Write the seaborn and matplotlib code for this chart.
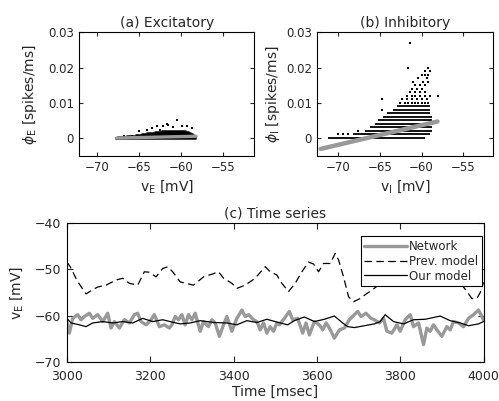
import numpy as np
import pandas as pd
import seaborn as sns
import matplotlib.pyplot as plt

# ---- panel (a): excitatory scatter, rows of quantized rates (phi, v_min, v_max)
exc_row_phi = [0.0, 0.0003, 0.0006, 0.0009, 0.0012, 0.0015, 0.0018, 0.0021]
exc_row_vmin = [-67.8, -67.6, -66.5, -65.5, -64.8, -64.2, -63.2, -62.4]
exc_row_vmax = [-58.2, -58.2, -58.2, -58.4, -58.6, -58.8, -59.0, -59.4]
exc_pts_v = [-66.8, -65.8, -65.0, -64.0, -63.5, -62.9, -62.5, -62.1, -61.7, -61.5,
             -60.9, -60.5, -59.9, -59.3, -58.7]
exc_pts_phi = [0.0007, 0.0007, 0.0019, 0.0024, 0.0028, 0.0033, 0.0024, 0.0035, 0.004, 0.0038,
               0.003, 0.005, 0.0033, 0.0035, 0.0028]
exc_fit_v = [-67.6, -58.2]
exc_fit_phi = [0.0, 0.0005]

# ---- panel (b): inhibitory scatter
inh_row_phi = [0.0, 0.001, 0.002, 0.003, 0.004, 0.005, 0.006, 0.007, 0.008, 0.009]
inh_row_vmin = [-71.2, -68.2, -66.8, -66.2, -65.6, -65.2, -64.6, -64.2, -63.4, -63.0]
inh_row_vmax = [-59.6, -59.0, -58.8, -58.8, -58.8, -58.8, -58.8, -59.0, -59.0, -59.0]
inh_pts_v = [-70.0, -69.4, -68.8, -67.6, -64.8, -64.7,
             -62.6, -62.0, -61.6, -61.2, -60.8, -60.4, -60.0, -59.6, -59.2,
             -62.4, -61.8, -61.2, -60.6, -60.0, -59.4,
             -61.8, -61.2, -60.8, -60.2, -59.6, -59.0, -58.0,
             -61.4, -60.8, -60.2, -59.6,
             -61.2, -60.6, -60.0,
             -60.8, -60.2, -59.6,
             -61.0, -59.8, -59.2,
             -60.4, -59.4,
             -60.0, -59.6, -59.2,
             -59.6, -59.0,
             -61.6, -59.2,
             -61.4]
inh_pts_phi = [0.001, 0.001, 0.001, 0.002, 0.008, 0.011,
               0.010, 0.010, 0.010, 0.010, 0.010, 0.010, 0.010, 0.010, 0.010,
               0.011, 0.011, 0.011, 0.011, 0.011, 0.011,
               0.012, 0.012, 0.012, 0.012, 0.012, 0.012, 0.012,
               0.013, 0.013, 0.013, 0.013,
               0.014, 0.014, 0.014,
               0.015, 0.015, 0.015,
               0.016, 0.016, 0.016,
               0.017, 0.017,
               0.018, 0.018, 0.018,
               0.019, 0.019,
               0.020, 0.020,
               0.027]
inh_fit_v = [-72.1, -58.1]
inh_fit_phi = [-0.0031, 0.0047]

# ---- panel (c): time series
net_t = [3000, 3006, 3014, 3026, 3034, 3042, 3054, 3062, 3074, 3086, 3098, 3106, 3114, 3126,
         3138, 3150, 3162, 3170, 3178, 3190, 3202, 3210, 3222, 3234, 3246, 3252, 3260, 3268,
         3276, 3284, 3292, 3300, 3308, 3320, 3328, 3340, 3348, 3356, 3366, 3376, 3384, 3396,
         3408, 3420, 3428, 3436, 3448, 3456, 3464, 3472, 3480, 3488, 3496, 3504, 3510, 3522,
         3534, 3542, 3554, 3566, 3574, 3582, 3594, 3606, 3614, 3622, 3630, 3642, 3654, 3666,
         3678, 3690, 3698, 3706, 3718, 3730, 3738, 3750, 3760, 3768, 3780, 3792, 3800, 3812,
         3824, 3832, 3844, 3856, 3864, 3872, 3880, 3888, 3900, 3912, 3920, 3928, 3940, 3952,
         3964, 3976, 3988, 3995, 4000]
net_v = [-61.3, -63.8, -60.6, -59.8, -60.9, -60.2, -59.5, -60.6, -59.8, -61.3, -59.5, -62.7,
         -61.3, -62.7, -60.9, -61.6, -59.8, -59.5, -61.3, -62.0, -60.9, -59.8, -62.4, -62.0,
         -62.7, -62.0, -60.2, -60.9, -59.8, -62.0, -59.8, -60.9, -59.5, -63.4, -61.3, -62.4,
         -60.9, -61.6, -64.5, -62.0, -60.2, -63.4, -60.6, -58.8, -60.2, -59.8, -60.9, -61.3,
         -63.1, -61.6, -63.8, -62.4, -63.4, -61.6, -62.0, -60.6, -59.1, -60.9, -60.6, -63.8,
         -61.6, -64.2, -61.3, -62.0, -63.1, -61.6, -62.7, -64.9, -63.1, -62.7, -60.9, -59.8,
         -59.1, -60.2, -59.5, -60.6, -60.9, -61.6, -60.6, -63.4, -63.8, -62.0, -63.4, -60.9,
         -59.8, -62.4, -61.6, -66.3, -62.7, -63.4, -62.0, -63.1, -64.5, -62.4, -63.1, -61.3,
         -61.6, -62.4, -60.6, -59.8, -58.8, -60.0, -61.0]

prev_t = [3000, 3008, 3025, 3046, 3060, 3074, 3094, 3118, 3134, 3150, 3170, 3186, 3198, 3214,
          3230, 3242, 3254, 3272, 3304, 3328, 3352, 3364, 3376, 3396, 3408, 3428, 3452, 3476,
          3488, 3504, 3516, 3532, 3548, 3564, 3580, 3592, 3604, 3616, 3632, 3644, 3652, 3664,
          3676, 3688, 3704, 3720, 3732, 3760, 3800, 3850, 3900, 3940, 3958, 3972, 3984, 3992,
          4000]
prev_v = [-48.4, -49.4, -52.5, -55.3, -54.5, -53.8, -53.4, -52.3, -51.9, -53.0, -53.4, -50.5,
          -50.6, -51.6, -49.8, -49.4, -50.5, -52.7, -53.4, -51.6, -50.9, -50.5, -51.9, -53.0,
          -54.1, -53.4, -51.9, -49.4, -50.5, -51.2, -53.0, -54.8, -53.0, -50.5, -48.4, -48.8,
          -50.5, -48.7, -48.7, -46.5, -47.9, -51.6, -55.9, -57.0, -56.3, -55.2, -54.5, -52.5,
          -51.0, -50.5, -51.0, -52.5, -54.5, -56.3, -56.3, -55.0, -52.8]

our_t = [3000, 3010, 3030, 3046, 3062, 3086, 3110, 3134, 3158, 3182, 3206, 3230, 3252, 3272,
         3296, 3320, 3352, 3384, 3408, 3432, 3456, 3480, 3504, 3530, 3546, 3570, 3594, 3618,
         3642, 3662, 3674, 3690, 3714, 3738, 3752, 3764, 3784, 3808, 3832, 3860, 3896, 3920,
         3944, 3964, 3988, 4000]
our_v = [-60.6, -61.6, -62.0, -62.4, -61.6, -61.3, -61.6, -61.3, -61.6, -60.6, -61.3, -60.9,
         -61.4, -61.8, -61.6, -61.1, -61.5, -61.6, -62.0, -61.1, -61.5, -60.8, -61.4, -62.0,
         -61.1, -60.3, -61.3, -60.8, -60.1, -61.6, -62.4, -62.6, -62.2, -61.8, -61.3, -59.8,
         -61.3, -61.8, -60.9, -60.8, -60.1, -61.1, -61.6, -62.2, -61.8, -61.3]

GRAY = '#999999'
FS = 8.5    # tick labels
LFS = 10    # titles / axis labels

sns.set_style('ticks')
plt.rcParams['font.family'] = ['DejaVu Sans']
plt.rcParams['font.size'] = FS
plt.rcParams['axes.linewidth'] = 0.8
plt.rcParams['axes.edgecolor'] = 'black'

fig = plt.figure(figsize=(4.99, 4.01), dpi=100)
ax_a = fig.add_axes([0.159, 0.612, 0.350, 0.307])
ax_b = fig.add_axes([0.636, 0.612, 0.351, 0.307])
ax_c = fig.add_axes([0.134, 0.098, 0.835, 0.345])


def scatter_panel(ax, row_phi, row_vmin, row_vmax, pts_v, pts_phi, fit_v, fit_phi,
                  xlim, title, sub, row_lw, fit_lw, ypad):
    ax.hlines(row_phi, row_vmin, row_vmax, colors='black', lw=row_lw, zorder=2)
    sns.scatterplot(x=pts_v, y=pts_phi, ax=ax, color='black', s=2.5, marker='s',
                    linewidth=0, zorder=3)
    sns.lineplot(x=fit_v, y=fit_phi, ax=ax, color=GRAY, lw=fit_lw, zorder=4)
    ax.set_xlim(*xlim)
    ax.set_ylim(-0.005, 0.03)
    ax.set_xticks([-70, -65, -60, -55])
    ax.set_yticks([0, 0.01, 0.02, 0.03])
    ax.set_yticklabels(['0', '0.01', '0.02', '0.03'])
    ax.tick_params(direction='in', length=3, width=0.8, top=True, right=True,
                   labelsize=FS, pad=4)
    ax.set_title(title, fontsize=LFS, pad=4)
    ax.set_xlabel(r'v$_{\rm %s}$ [mV]' % sub, fontsize=LFS, labelpad=3)
    ax.set_ylabel(r'$\phi_{\rm %s}$ [spikes/ms]' % sub, fontsize=LFS, labelpad=ypad)


scatter_panel(ax_a, exc_row_phi, exc_row_vmin, exc_row_vmax, exc_pts_v, exc_pts_phi,
              exc_fit_v, exc_fit_phi, (-72.1, -51.3), '(a) Excitatory', 'E', 1.8, 2.4, 6)
scatter_panel(ax_b, inh_row_phi, inh_row_vmin, inh_row_vmax, inh_pts_v, inh_pts_phi,
              inh_fit_v, inh_fit_phi, (-72.5, -51.5), '(b) Inhibitory', 'I', 1.3, 3.2, 3)

# time series
sns.lineplot(x=net_t, y=net_v, ax=ax_c, color=GRAY, lw=2.4, label='Network')
sns.lineplot(x=prev_t, y=prev_v, ax=ax_c, color='black', lw=0.9,
             linestyle=(0, (6, 3.5)), label='Prev. model')
sns.lineplot(x=our_t, y=our_v, ax=ax_c, color='black', lw=0.9, label='Our model')
ax_c.set_xlim(3000, 4000)
ax_c.set_ylim(-70, -40)
ax_c.set_xticks(range(3000, 4001, 200))
ax_c.set_yticks([-70, -60, -50, -40])
ax_c.tick_params(direction='in', length=4.5, width=0.8, top=True, right=True,
                 labelsize=FS + 0.5)
ax_c.tick_params(axis='x', pad=6)
ax_c.tick_params(axis='y', pad=4)
ax_c.set_title('(c) Time series', fontsize=LFS, pad=4)
ax_c.set_xlabel('Time [msec]', fontsize=LFS, labelpad=1)
ax_c.set_ylabel(r'v$_{\rm E}$ [mV]', fontsize=LFS, labelpad=7)
leg = ax_c.legend(loc='upper right', bbox_to_anchor=(0.996, 0.905), borderaxespad=0,
                  frameon=True, fancybox=False, framealpha=1, edgecolor='black',
                  handlelength=3.6, handletextpad=0.2, labelspacing=0.15,
                  borderpad=0.3, fontsize=FS)
leg.get_frame().set_linewidth(0.8)

fig.savefig('out.png', dpi=100)
